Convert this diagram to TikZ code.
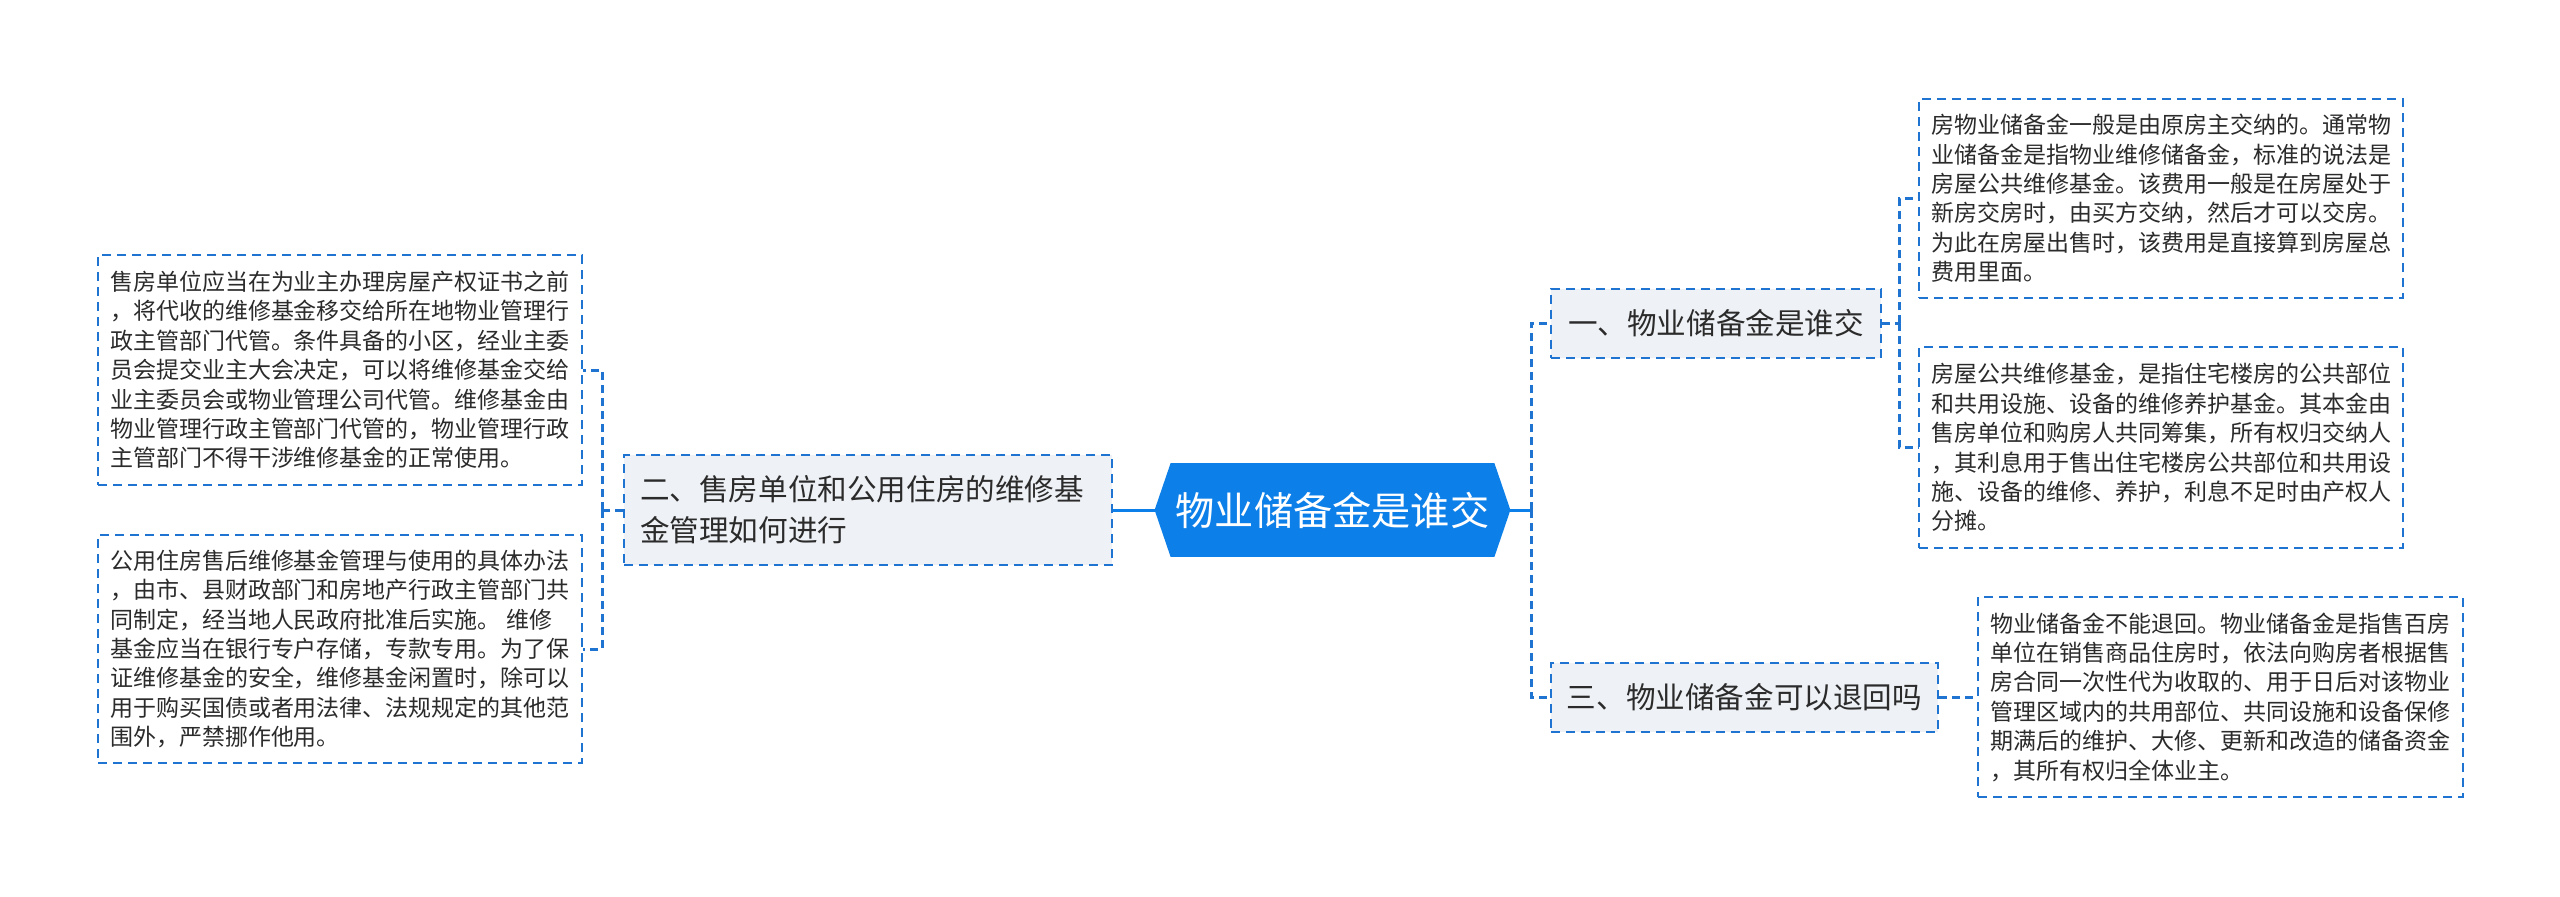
\documentclass[tikz,border=0pt]{standalone}
\usepackage{fontspec}
\setmainfont{Noto Sans CJK SC}
\usetikzlibrary{backgrounds}
\definecolor{lineblue}{HTML}{1F74D2}
\definecolor{rootblue}{HTML}{0D7FE8}
\definecolor{boxgray}{HTML}{EEF1F5}
\definecolor{txt}{HTML}{2B2B2B}
\begin{document}
\begin{tikzpicture}[x=0.5pt,y=-0.5pt,
  leaf/.style={draw=lineblue, line width=1pt, dash pattern=on 4.5pt off 3pt, fill=white,
    align=left, inner xsep=6pt, inner ysep=0pt,
    font=\fontsize{11.5pt}{14.7pt}\selectfont, text=txt},
  branch/.style={draw=lineblue, line width=1pt, dash pattern=on 4.5pt off 3pt, fill=boxgray,
    inner xsep=8pt, inner ysep=0pt, minimum height=34.5pt,
    font=\fontsize{14.8pt}{20.5pt}\selectfont, text=txt},
  conn/.style={draw=lineblue, line width=1.5pt, dash pattern=on 4pt off 2.5pt},
  solidconn/.style={draw=rootblue, line width=1.5pt},
  rootnode/.style={minimum width=177.5pt, minimum height=46.5pt, inner sep=0pt,
    font=\fontsize{19.6pt}{24pt}\selectfont, text=white}
]
\useasboundingbox (0,0) rectangle (2560,896);

% root
\node[rootnode] (root) at (1332.5,510) {物业储备金是谁交};
\begin{pgfonlayer}{background}
\fill[white] (0,0) rectangle (2560,896);
\fill[rootblue] ([xshift=8pt]root.north west) -- ([xshift=-8pt]root.north east) -- (root.east)
  -- ([xshift=-8pt]root.south east) -- ([xshift=8pt]root.south west) -- (root.west) -- cycle;
\end{pgfonlayer}

% branches
\node[branch, align=left, text width=228pt, minimum height=55pt] (b2) at (868,510)
  {二、售房单位和公用住房的维修基\\金管理如何进行};
\node[branch, minimum width=165pt] (b1) at (1716,323) {一、物业储备金是谁交};
\node[branch, minimum width=193.5pt] (b3) at (1744.5,697) {三、物业储备金可以退回吗};

% leaves left
\node[leaf, minimum width=242pt, minimum height=115pt] (l1) at (340,370)
  {售房单位应当在为业主办理房屋产权证书之前\\
   ，将代收的维修基金移交给所在地物业管理行\\
   政主管部门代管。条件具备的小区，经业主委\\
   员会提交业主大会决定，可以将维修基金交给\\
   业主委员会或物业管理公司代管。维修基金由\\
   物业管理行政主管部门代管的，物业管理行政\\
   主管部门不得干涉维修基金的正常使用。};
\node[leaf, minimum width=242pt, minimum height=114pt] (l2) at (340,649)
  {公用住房售后维修基金管理与使用的具体办法\\
   ，由市、县财政部门和房地产行政主管部门共\\
   同制定，经当地人民政府批准后实施。 维修\\
   基金应当在银行专户存储，专款专用。为了保\\
   证维修基金的安全，维修基金闲置时，除可以\\
   用于购买国债或者用法律、法规规定的其他范\\
   围外，严禁挪作他用。};

% leaves right
\node[leaf, minimum width=241pt, minimum height=99.5pt] (r1) at (2161,198.5)
  {房物业储备金一般是由原房主交纳的。通常物\\
   业储备金是指物业维修储备金，标准的说法是\\
   房屋公共维修基金。该费用一般是在房屋处于\\
   新房交房时，由买方交纳，然后才可以交房。\\
   为此在房屋出售时，该费用是直接算到房屋总\\
   费用里面。};
\node[leaf, minimum width=241pt, minimum height=100.5pt] (r2) at (2161,447.5)
  {房屋公共维修基金，是指住宅楼房的公共部位\\
   和共用设施、设备的维修养护基金。其本金由\\
   售房单位和购房人共同筹集，所有权归交纳人\\
   ，其利息用于售出住宅楼房公共部位和共用设\\
   施、设备的维修、养护，利息不足时由产权人\\
   分摊。};
\node[leaf, minimum width=242.5pt, minimum height=100pt] (r3) at (2220.5,697)
  {物业储备金不能退回。物业储备金是指售百房\\
   单位在销售商品住房时，依法向购房者根据售\\
   房合同一次性代为收取的、用于日后对该物业\\
   管理区域内的共用部位、共同设施和设备保修\\
   期满后的维护、大修、更新和改造的储备资金\\
   ，其所有权归全体业主。};

% connectors
\coordinate (lj) at (602,510);
\coordinate (rj) at (1531,510);
\coordinate (bj) at (1899,323);
\draw[solidconn] (root.west) -- (b2.east);
\draw[solidconn] (root.east) -- (rj);
\draw[conn] (b2.west) -- (lj);
\draw[conn] (lj) |- (l1.east);
\draw[conn] (lj) |- (l2.east);
\draw[conn] (rj) |- (b1.west);
\draw[conn] (rj) |- (b3.west);
\draw[conn] (b1.east) -- (bj);
\draw[conn] (bj) |- (r1.west);
\draw[conn] (bj) |- (r2.west);
\draw[conn] (b3.east) -- (r3.west);
\end{tikzpicture}
\end{document}
